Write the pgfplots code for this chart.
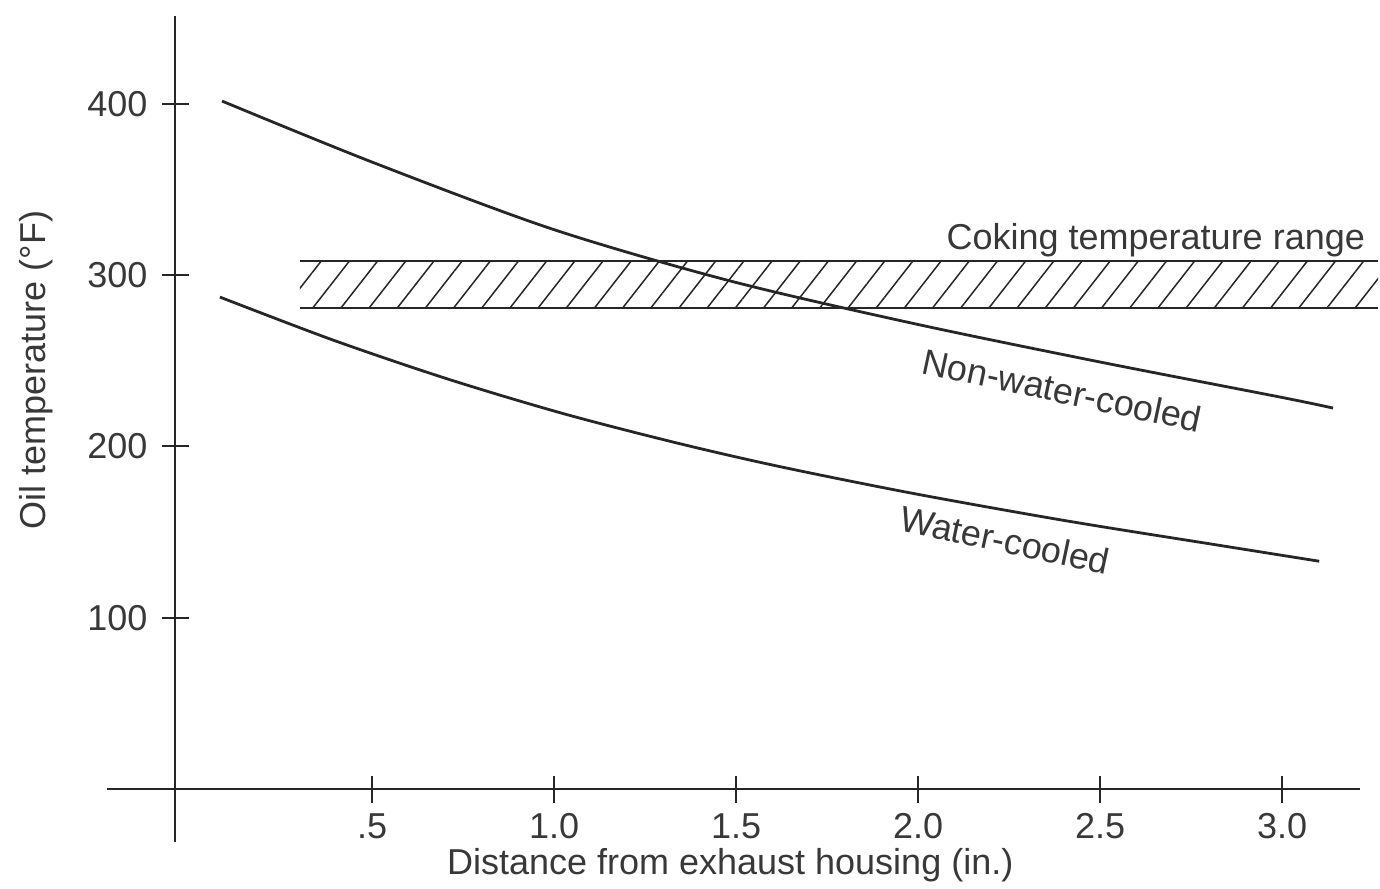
\documentclass[border=0pt]{standalone}
\usepackage{pgfplots}
\pgfplotsset{compat=1.18}
\usepackage{fontspec}
\setmainfont{Liberation Sans}
\usetikzlibrary{patterns.meta}
\definecolor{ink}{gray}{0.15}
\definecolor{txt}{gray}{0.22}

\pgfplotstableread{
x y
0.088 401.6
0.500 366.0
0.995 326.9
1.484 296.6
1.989 271.7
2.495 249.5
3.000 228.6
3.140 222.4
}\nonwater

\pgfplotstableread{
x y
0.082 287.2
0.393 262.1
0.709 239.3
1.025 219.2
1.338 202.0
1.621 188.2
1.986 172.6
2.407 156.6
2.827 142.3
3.102 133.0
}\water

\begin{document}
\begin{tikzpicture}
\begin{axis}[
  scale only axis,
  width=592.4pt, height=386.3pt,
  xmin=-0.041, xmax=3.214,
  ymin=0, ymax=451,
  axis lines=left,
  axis line style={-, line width=1pt, ink},
  clip=false,
  xtick={0.5,1,1.5,2,2.5,3},
  xticklabels={.5,1.0,1.5,2.0,2.5,3.0},
  ytick={100,200,300,400},
  yticklabels={100,200,300,400},
  tick align=center,
  major tick length=13.5pt,
  tick style={line width=1pt, ink},
  tick label style={font=\fontsize{18}{20}\selectfont, text=txt},
  xticklabel style={yshift=-2pt},
  yticklabel style={xshift=-3.5pt},
  label style={font=\fontsize{18}{20}\selectfont, text=txt},
  xlabel={Distance from exhaust housing (in.)},
  ylabel={Oil temperature (°F)},
  xlabel style={at={(rel axis cs:0.4685,-0.0984)}, anchor=center},
  ylabel style={at={(rel axis cs:-0.1174,0.5424)}, anchor=center, rotate=0},
]
% axis line extensions (cross-style axes)
\addplot[ink, line width=1pt] coordinates {(-0.228,0) (-0.041,0)};
\addplot[ink, line width=1pt] coordinates {(-0.041,-31) (-0.041,0)};

% coking temperature band
\addplot[draw=none, pattern={Lines[angle=52,distance=11.1pt,line width=0.75pt]}, pattern color=ink]
  coordinates {(0.302,281) (3.264,281) (3.264,308) (0.302,308)} -- cycle;
\addplot[ink, line width=1pt] coordinates {(0.302,308) (3.264,308)};
\addplot[ink, line width=1pt] coordinates {(0.302,281) (3.264,281)};

% curves
\addplot[ink, line width=1.4pt, smooth] table[x=x,y=y] {\nonwater};
\addplot[ink, line width=1.4pt, smooth] table[x=x,y=y] {\water};

% annotations
\node[anchor=base east, font=\fontsize{18}{20}\selectfont, text=txt] at (axis cs:3.247,314.7) {Coking temperature range};
\node[rotate=-12, font=\fontsize{18}{20}\selectfont, text=txt] at (axis cs:2.396,232.9) {Non-water-cooled};
\node[rotate=-12, font=\fontsize{18}{20}\selectfont, text=txt] at (axis cs:2.239,145.4) {Water-cooled};

% page extent
\path (axis cs:-0.522,-56.6) rectangle (axis cs:3.269,460.6);
\end{axis}
\end{tikzpicture}
\end{document}
